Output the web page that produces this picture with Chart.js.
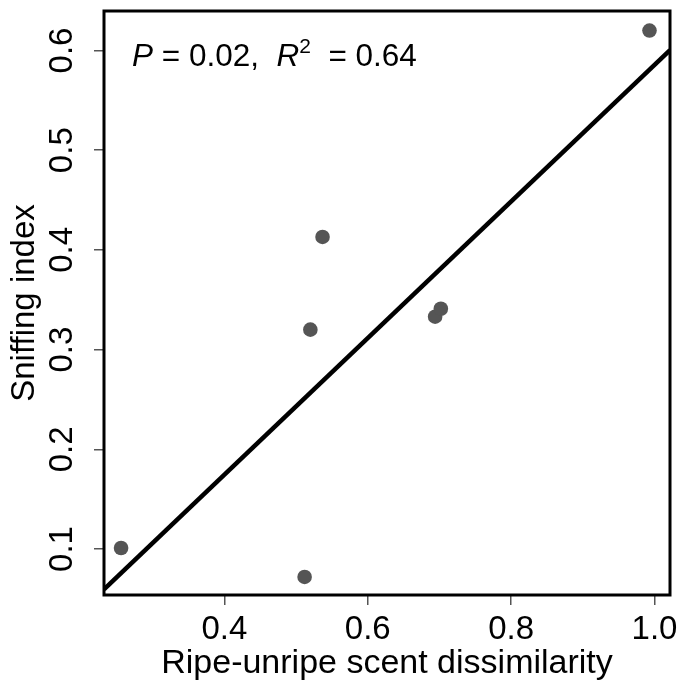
<!DOCTYPE html>
<html>
<head>
<meta charset="utf-8">
<script src="https://cdn.jsdelivr.net/npm/chart.js@4/dist/chart.umd.min.js"></script>
<style>
  html, body { margin: 0; padding: 0; background: #fff; }
  #wrap { width: 680px; height: 681px; }
</style>
</head>
<body>
<div id="wrap"><canvas id="chartCanvas" width="680" height="681"></canvas></div>
<script>
// --- values ---
const scentDissim = [0.256, 0.512, 0.520, 0.537, 0.694, 0.702, 0.993];
const sniffIndex  = [0.101, 0.072, 0.320, 0.413, 0.333, 0.341, 0.620];

// fitted line: y = intercept + slope * x
const fitIntercept = -0.0995;
const fitSlope = 0.685;

// axis ranges + ticks
const xRange = [0.2322, 1.0216];
const yRange = [0.0539, 0.6396];
const xTicks = [0.4, 0.6, 0.8, 1.0];
const yTicks = [0.1, 0.2, 0.3, 0.4, 0.5, 0.6];

const pValue = "0.02";
const r2Value = "0.64";

const FONT = "'Liberation Sans', Arial, sans-serif";
const canvas = document.getElementById("chartCanvas");

// box around the plot + the stats label in the top-left corner
const frameAndStats = {
  id: "frameAndStats",
  afterDatasetsDraw(chart) {
    const { ctx, chartArea: a } = chart;
    ctx.save();
    ctx.lineWidth = 3;
    ctx.strokeStyle = "#000";
    ctx.strokeRect(a.left, a.top, a.right - a.left, a.bottom - a.top);

    ctx.fillStyle = "#000";
    ctx.textBaseline = "alphabetic";
    let x = a.left + 28;
    const y = a.top + 55;
    const put = (txt, font, dy = 0) => {
      ctx.font = font;
      ctx.fillText(txt, x, y + dy);
      x += ctx.measureText(txt).width;
    };
    put("P", `italic 31.5px ${FONT}`);
    put(` = ${pValue},  `, `31.5px ${FONT}`);
    put("R", `italic 31.5px ${FONT}`);
    put("2", `21px ${FONT}`, -13);
    put(`  = ${r2Value}`, `31.5px ${FONT}`);
    ctx.restore();
  }
};

const points = scentDissim.map((x, i) => ({ x, y: sniffIndex[i] }));
const fitLine = xRange.map(x => ({ x, y: fitIntercept + fitSlope * x }));

const axisCommon = {
  type: "linear",
  border: { display: false },
  grid: { drawOnChartArea: false, drawTicks: true, tickLength: 10, color: "#555", lineWidth: 1.5 }
};

new Chart(canvas, {
  type: "scatter",
  data: {
    datasets: [
      {
        label: "fit",
        type: "line",
        data: fitLine,
        borderColor: "#000",
        borderWidth: 4.5,
        pointRadius: 0,
        fill: false
      },
      {
        label: "species",
        data: points,
        backgroundColor: "#555555",
        borderWidth: 0,
        pointRadius: 7.3
      }
    ]
  },
  options: {
    responsive: false,
    animation: false,
    layout: { padding: { top: 11, right: 10, left: 0, bottom: 0 } },
    plugins: { legend: { display: false }, tooltip: { enabled: false } },
    scales: {
      x: {
        ...axisCommon,
        min: xRange[0],
        max: xRange[1],
        afterBuildTicks: s => { s.ticks = xTicks.map(v => ({ value: v })); },
        afterFit: s => { s.height = 86; s.paddingLeft = 0; s.paddingRight = 0; },
        ticks: {
          callback: v => v.toFixed(1),
          font: { family: FONT, size: 33 },
          color: "#000",
          padding: 5,
          maxRotation: 0,
          autoSkip: false
        },
        title: {
          display: true,
          text: "Ripe-unripe scent dissimilarity",
          font: { family: FONT, size: 34, lineHeight: 1 },
          color: "#000",
          padding: { top: 0, bottom: 0 }
        }
      },
      y: {
        ...axisCommon,
        min: yRange[0],
        max: yRange[1],
        afterBuildTicks: s => { s.ticks = yTicks.map(v => ({ value: v })); },
        afterFit: s => { s.width = 104; s.paddingTop = 0; s.paddingBottom = 0; },
        ticks: {
          callback: v => v.toFixed(1),
          font: { family: FONT, size: 33 },
          color: "#000",
          padding: 8,
          minRotation: 90,
          maxRotation: 90,
          crossAlign: "center",
          autoSkip: false
        },
        title: {
          display: true,
          text: "Sniffing index",
          font: { family: FONT, size: 33, lineHeight: 1 },
          color: "#000",
          padding: { top: 8, bottom: 0 }
        }
      }
    }
  },
  plugins: [frameAndStats]
});
</script>
</body>
</html>
